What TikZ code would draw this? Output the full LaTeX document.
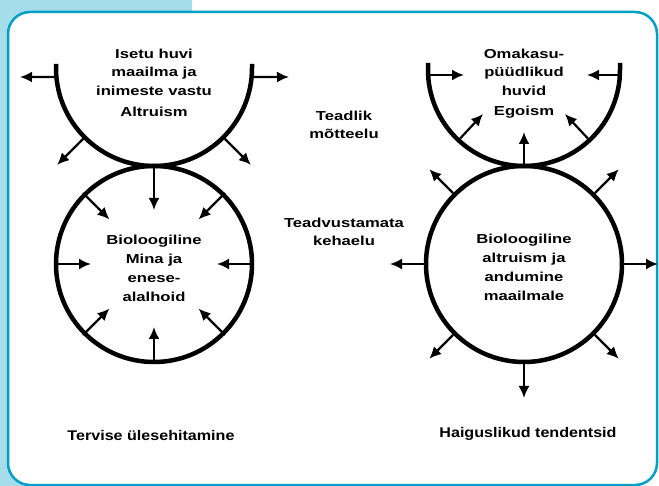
\documentclass[tikz,border=0pt]{standalone}
\usepackage{fontspec}
\setmainfont{Liberation Sans}
\newfontfamily\widef{Liberation Sans}[FakeStretch=1.28]
\newfontfamily\botf{Liberation Sans}[FakeStretch=1.15]
\usetikzlibrary{arrows.meta,calc}
\definecolor{bgblue}{RGB}{166,221,234}
\definecolor{frameblue}{RGB}{0,160,198}
\begin{document}
\begin{tikzpicture}[x=1pt,y=-1pt,
  ring/.style={draw=black, line width=4.5pt, circle, minimum size=196pt, inner sep=0pt},
  cupline/.style={draw=black, line width=4.5pt},
  arr/.style={draw=black, line width=2.2pt, -{Latex[length=12pt,width=11pt]}},
  lbl/.style={font=\widef\bfseries\fontsize{13}{18.5}\selectfont, align=center, inner sep=0pt, text=black},
  lblc/.style={font=\widef\bfseries\fontsize{13}{19}\selectfont, align=center, inner sep=0pt, text=black},
  botlbl/.style={font=\botf\bfseries\fontsize{14}{17}\selectfont, inner sep=0pt, text=black}]
\useasboundingbox (0,0) rectangle (659,486);
\fill[bgblue] (0,0) rectangle (192,486);
\draw[frameblue, line width=2.5pt, fill=white, rounded corners=22pt] (8,12) rectangle (657,485);

\coordinate (lcc) at (154,68);
\coordinate (rcc) at (524,70);
\node[ring] (lc) at (154,264) {};
\node[ring] (rc) at (524,264) {};

% left cup
\draw[cupline] ($(lcc)+(-98pt,4pt)$) -- ++(0pt,-4pt) arc[start angle=180,end angle=360,radius=98pt] -- ++(0pt,4pt);
\draw[arr] ($(lcc)+(185.3:98pt)$) -- ($(lcc)+(-134pt,-9pt)$);
\draw[arr] ($(lcc)+(-5.3:98pt)$) -- ($(lcc)+(135pt,-9pt)$);
\draw[arr] ($(lcc)+(225:98pt)$) -- ($(lcc)+(225:137pt)$);
\draw[arr] ($(lcc)+(315:98pt)$) -- ($(lcc)+(315:137pt)$);
\draw[arr] (lc.90) -- ($(lc)+(90:54pt)$);
\foreach \a in {0,45,135,180,225,270,315}
  \draw[arr] (lc.\a) -- ($(lc)+(\a:63pt)$);

% right cup
\draw[cupline] ($(rcc)+(-96pt,7pt)$) -- ++(0pt,-7pt) arc[start angle=180,end angle=360,radius=96pt] -- ++(0pt,7pt);
\draw[arr] ($(rcc)+(-96pt,-5pt)$) -- ($(rcc)+(-60pt,-5pt)$);
\draw[arr] ($(rcc)+(96pt,-5pt)$) -- ($(rcc)+(63pt,-5pt)$);
\draw[arr] ($(rcc)+(227:96pt)$) -- ($(rcc)+(227:60pt)$);
\draw[arr] ($(rcc)+(313:96pt)$) -- ($(rcc)+(313:60pt)$);
\draw[arr] (rc.90) -- ($(rcc)+(0pt,-62pt)$);
\foreach \a in {0,45,135,180,225,270,315}
  \draw[arr] (rc.\a) -- ($(rc)+(\a:134pt)$);

% texts
\node[lbl] (t1) at (154,72) {Isetu huvi\\maailma ja\\inimeste vastu};
\node[lbl] (t2) at (154,112) {Altruism};
\node[lbl] (t3) at (524,72) {Omakasu-\\püüdlikud\\huvid};
\node[lbl] (t4) at (524,112) {Egoism};
\node[lbl] (t5) at (344,125) {Teadlik\\mõtteelu};
\node[lbl] (t6) at (344,232) {Teadvustamata\\kehaelu};
\node[lblc] (t7) at (154,268) {Bioloogiline\\Mina ja\\enese-\\alalhoid};
\node[lblc] (t8) at (524,267) {Bioloogiline\\altruism ja\\andumine\\maailmale};
\node[botlbl] (t9) at (151,435) {Tervise ülesehitamine};
\node[botlbl] (t10) at (528,434) {Haiguslikud tendentsid};
\end{tikzpicture}
\end{document}
